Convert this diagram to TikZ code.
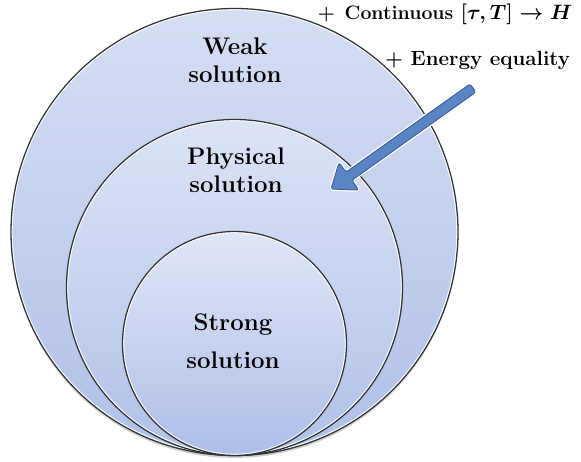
\documentclass[tikz,border=0pt]{standalone}
\usetikzlibrary{calc}

\definecolor{ringedge}{HTML}{333333}
\definecolor{outertop}{HTML}{D6DEF3}
\definecolor{outerbot}{HTML}{AFC0E8}
\definecolor{midtop}{HTML}{DCE3F5}
\definecolor{midbot}{HTML}{B0C1E9}
\definecolor{innertop}{HTML}{E0E6F6}
\definecolor{innerbot}{HTML}{ADBEE8}
\definecolor{arrowfill}{HTML}{5A84C4}
\definecolor{arrowedge}{HTML}{3D63A3}

\tikzset{
  ringline/.style={draw=ringedge, line width=1.3pt},
  ringglow/.style={draw=white, line width=0.8pt},
  setlabel/.style={font=\fontsize{24}{28}\selectfont\bfseries, align=center, inner sep=0pt},
  notelabel/.style={font=\fontsize{20.5}{24}\selectfont\bfseries, anchor=base, inner sep=0pt},
}

\begin{document}
\begin{tikzpicture}[x=1pt, y=-1pt]
  \useasboundingbox (0,0) rectangle (581,461);
  \fill[white] (0,0) rectangle (581,461);

  % centres of the three nested sets (all touch at the bottom)
  \coordinate (cw) at (234.5,232);
  \coordinate (cp) at (234.5,287.5);
  \coordinate (cs) at (234.5,343.5);

  % soft shadow under the sets
  \fill[black, opacity=0.18] ($(cw)+(0,2.5)$) circle[radius=223.5];

  % weak solutions
  \shade[top color=outertop, bottom color=outerbot] (cw) circle[radius=223.5];
  \draw[ringline] (cw) circle[radius=223.5];
  \draw[ringglow] (cw) circle[radius=222.2];

  % physical solutions
  \shade[top color=midtop, bottom color=midbot] (cp) circle[radius=168];
  \draw[ringline] (cp) circle[radius=168];
  \draw[ringglow] (cp) circle[radius=166.7];

  % strong solutions
  \shade[top color=innertop, bottom color=innerbot] (cs) circle[radius=112];
  \draw[ringline] (cs) circle[radius=112];
  \draw[ringglow] (cs) circle[radius=110.7];

  % set names
  \node[setlabel] (weak) at (235,60.7) {Weak\\solution};
  \node[setlabel] (physical) at (236,170.7) {Physical\\solution};
  \node[setlabel] (strong) at (233,340.7) {Strong\\[10pt]solution};

  % extra conditions
  \node[notelabel, font=\fontsize{19.5}{23}\selectfont\bfseries] (cont) at (445,19.5)
    {+\enspace Continuous {\boldmath$[\tau,T]\rightarrow H$}};
  \node[notelabel] (energy) at (477.5,65) {+ Energy equality};

  % block arrow pointing into the physical set
  \coordinate (tip) at (331,189);
  \coordinate (tail) at (473,88);
  \coordinate (hb) at ($(tip)!22pt!(tail)$);
  \path ($(hb)!17pt!90:(tail)$)  coordinate (h1)
        ($(hb)!5pt!90:(tail)$)   coordinate (s1)
        ($(tail)!5pt!-90:(hb)$)  coordinate (t1)
        ($(tail)!5pt!90:(hb)$)   coordinate (t2)
        ($(hb)!5pt!-90:(tail)$)  coordinate (s2)
        ($(hb)!17pt!-90:(tail)$) coordinate (h2);
  \draw[white, line width=3.5pt, line join=round, rounded corners=2.5pt]
    (tip) -- (h1) -- (s1) -- (t1) -- (t2) -- (s2) -- (h2) -- cycle;
  \draw[fill=arrowfill, draw=arrowedge, line width=1pt, line join=round, rounded corners=2.5pt]
    (tip) -- (h1) -- (s1) -- (t1) -- (t2) -- (s2) -- (h2) -- cycle;
\end{tikzpicture}
\end{document}
